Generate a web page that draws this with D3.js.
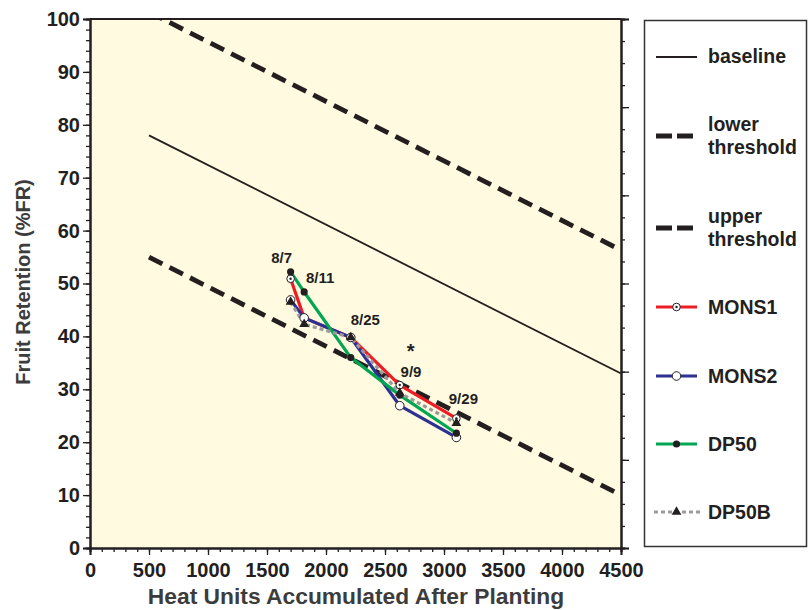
<!DOCTYPE html>
<html><head><meta charset="utf-8">
<script src="https://cdn.jsdelivr.net/npm/d3@7/dist/d3.min.js"></script>
<style>
body{margin:0;background:#fff;}
svg{display:block;font-family:"Liberation Sans",Arial,Helvetica,sans-serif;font-weight:bold;}
</style></head>
<body><svg id="c" width="809" height="610"></svg>
<script>
// ---- data ----
const xTicks = [0,500,1000,1500,2000,2500,3000,3500,4000,4500];
const yTicks = [0,10,20,30,40,50,60,70,80,90,100];
const dates = ["8/7","8/11","8/25","9/9","9/29"];
const heatUnits = [1700,1815,2210,2625,3105];
const mons1 = [50.9,43.5,39.8,30.8,24.5];
const mons2 = [46.9,43.5,39.8,26.9,20.9];
const dp50  = [52.2,48.4,36.0,28.9,21.7];
const dp50b = [46.5,42.3,39.8,29.3,23.6];
const refHU = [500,4500];
const baselineFR = [78,33];
const lowerFR = [55,10];
const upperFR = [101.3,56.3];
const legendNames = ["baseline","lower threshold","upper threshold","MONS1","MONS2","DP50","DP50B"];

// ---- layout ----
const L=90,R=621,T=19,B=548;
const svg=d3.select("#c");
const x=d3.scaleLinear().domain([0,4500]).range([L,R]);
const y=d3.scaleLinear().domain([0,100]).range([B,T]);
const ink="#231f20";

svg.append("defs").append("clipPath").attr("id","clip")
  .append("rect").attr("x",L).attr("y",T).attr("width",R-L).attr("height",B-T);

svg.append("rect").attr("x",L).attr("y",T).attr("width",R-L).attr("height",B-T).attr("fill","#fffae0");

// axes
function styleAxis(g){g.select(".domain").attr("stroke",ink).attr("stroke-width",2);
  g.selectAll(".tick line").attr("stroke",ink).attr("stroke-width",1.3);
  g.selectAll(".tick text").attr("fill",ink).style("font-size","20px").style("font-weight","bold").style("font-family","'Liberation Sans',Arial,sans-serif");}
const minorX=d3.range(0,4501,100), minorY=d3.range(0,101,2);
svg.append("g").attr("transform",`translate(0,${B})`).call(d3.axisBottom(x).tickValues(minorX).tickSize(4).tickFormat("")).call(styleAxis);
svg.append("g").attr("transform",`translate(0,${B})`).call(d3.axisBottom(x).tickValues(xTicks).tickSize(7).tickPadding(8).tickFormat(d3.format("d"))).call(styleAxis);
svg.append("g").attr("transform",`translate(${L},0)`).call(d3.axisLeft(y).tickValues(minorY).tickSize(4).tickFormat("")).call(styleAxis);
svg.append("g").attr("transform",`translate(${L},0)`).call(d3.axisLeft(y).tickValues(yTicks).tickSize(7).tickPadding(3).tickFormat(d3.format("d"))).call(styleAxis);
const yr=d3.scaleLinear().domain([0,6]).range([B,T]);
svg.append("g").attr("transform",`translate(${R},0)`).call(d3.axisRight(yr).tickValues(d3.range(0,6.01,0.25)).tickSize(4).tickFormat("")).call(styleAxis);
svg.append("g").attr("transform",`translate(${R},0)`).call(d3.axisRight(yr).tickValues(d3.range(0,7)).tickSize(8).tickFormat("")).call(styleAxis);
svg.append("line").attr("x1",L).attr("x2",R).attr("y1",T).attr("y2",T).attr("stroke",ink).attr("stroke-width",2);

// axis titles
svg.append("text").attr("x",356).attr("y",604).attr("text-anchor","middle").attr("fill","#3c3c3c").style("font-size","22.8px").text("Heat Units Accumulated After Planting");
svg.append("text").attr("transform",`translate(30,282) rotate(-90)`).attr("text-anchor","middle").attr("fill","#3c3c3c").style("font-size","20px").text("Fruit Retention (%FR)");

// reference lines
const plot=svg.append("g").attr("clip-path","url(#clip)");
const refLine=d3.line().x((d,i)=>x(refHU[i])).y(d=>y(d));
plot.append("path").attr("d",refLine(upperFR)).attr("fill","none").attr("stroke",ink).attr("stroke-width",4.8).attr("stroke-dasharray","15,8");
plot.append("path").attr("d",refLine(lowerFR)).attr("fill","none").attr("stroke",ink).attr("stroke-width",4.8).attr("stroke-dasharray","15,8");
plot.append("path").attr("d",refLine(baselineFR)).attr("fill","none").attr("stroke",ink).attr("stroke-width",1.8);

// series
const series=[
 {name:"MONS1",vals:mons1,color:"#ee1c25",dash:null,marker:"dotcircle"},
 {name:"MONS2",vals:mons2,color:"#2e3192",dash:null,marker:"circle"},
 {name:"DP50",vals:dp50,color:"#00a651",dash:null,marker:"dot"},
 {name:"DP50B",vals:dp50b,color:"#9b9b9b",dash:"4,3",marker:"tri"}
];
const sLine=d3.line().x((d,i)=>x(heatUnits[i])).y(d=>y(d));
series.forEach(s=>{
  plot.append("path").attr("d",sLine(s.vals)).attr("fill","none").attr("stroke",s.color).attr("stroke-width",3.2)
    .attr("stroke-dasharray",s.dash).attr("stroke-linejoin","round");
});
function marker(g,type,cx,cy){
  if(type==="dotcircle"){g.append("circle").attr("cx",cx).attr("cy",cy).attr("r",3.8).attr("fill","#fff").attr("stroke",ink).attr("stroke-width",1);
    g.append("circle").attr("cx",cx).attr("cy",cy).attr("r",1.2).attr("fill",ink);}
  else if(type==="circle"){g.append("circle").attr("cx",cx).attr("cy",cy).attr("r",4.3).attr("fill","#fff").attr("stroke",ink).attr("stroke-width",1);}
  else if(type==="dot"){g.append("circle").attr("cx",cx).attr("cy",cy).attr("r",3.6).attr("fill",ink);}
  else if(type==="tri"){g.append("path").attr("d",d3.symbol(d3.symbolTriangle,42)()).attr("transform",`translate(${cx},${cy})`).attr("fill",ink);}
}
series.forEach(s=>{ s.vals.forEach((v,i)=>marker(plot,s.marker,x(heatUnits[i]),y(v))); });

// date labels
const labOff=[[-9,-15.4],[16,-8.6],[14.5,-12.5],[11.3,-8.4],[7,-14.4]];
const anchorVal=[mons1[0],dp50[1],mons1[2],mons1[3],mons1[4]];
dates.forEach((d,i)=>{
  svg.append("text").attr("x",x(heatUnits[i])+labOff[i][0]).attr("y",y(anchorVal[i])+labOff[i][1])
    .attr("text-anchor","middle").attr("fill",ink).style("font-size","15px").text(d);
});
svg.append("text").attr("x",x(heatUnits[3])+11).attr("y",y(mons1[3])-27).attr("text-anchor","middle").attr("fill",ink).style("font-size","20px").text("*");

// legend
const lg=svg.append("g");
lg.append("rect").attr("x",644.5).attr("y",20.5).attr("width",162).attr("height",526).attr("fill","#fff").attr("stroke","#333").attr("stroke-width",1.5);
const lx1=656,lx2=697,tx=708;
const legItems=[
 {y:57,lines:[legendNames[0]],ty:[56],kind:"base"},
 {y:136,lines:["lower","threshold"],ty:[124,147],kind:"dash"},
 {y:228,lines:["upper","threshold"],ty:[216,239],kind:"dash"},
 {y:307,lines:[legendNames[3]],ty:[307],kind:0},
 {y:376,lines:[legendNames[4]],ty:[376],kind:1},
 {y:444,lines:[legendNames[5]],ty:[444],kind:2},
 {y:512,lines:[legendNames[6]],ty:[512],kind:3}
];
legItems.forEach(it=>{
  if(it.kind==="base"){lg.append("line").attr("x1",lx1).attr("x2",lx2).attr("y1",it.y).attr("y2",it.y).attr("stroke",ink).attr("stroke-width",1.8);}
  else if(it.kind==="dash"){lg.append("line").attr("x1",lx1).attr("x2",lx2).attr("y1",it.y).attr("y2",it.y).attr("stroke",ink).attr("stroke-width",4.8).attr("stroke-dasharray","16,5");}
  else {const s=series[it.kind];
    lg.append("line").attr("x1",s.dash?654:lx1).attr("x2",s.dash?700:lx2).attr("y1",it.y).attr("y2",it.y).attr("stroke",s.color).attr("stroke-width",3.2).attr("stroke-dasharray",s.dash);
    marker(lg,s.marker,(lx1+lx2)/2,it.y);}
  it.lines.forEach((t,j)=>lg.append("text").attr("x",tx).attr("y",it.ty[j]).attr("dy","0.35em").attr("fill",ink).style("font-size","19.5px").text(t));
});
</script></body></html>
